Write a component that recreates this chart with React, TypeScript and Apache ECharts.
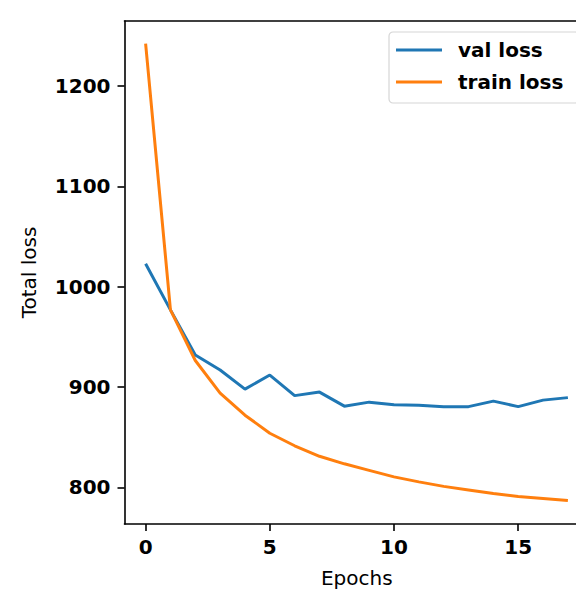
import React, { useEffect, useRef } from "react";
import * as echarts from "echarts";

const epochs = [0, 1, 2, 3, 4, 5, 6, 7, 8, 9, 10, 11, 12, 13, 14, 15, 16, 17];
const valLoss = [1023, 977, 932, 917, 898, 912, 891.5, 895, 881, 885, 882.5, 882, 880.5, 880.5, 886, 880.5, 887, 889.5];
const trainLoss = [1242.5, 977, 926.5, 894, 872, 854, 841.5, 831, 823.5, 817, 810.5, 805.5, 801, 797.5, 794, 791, 789, 787];
const xTicks = [0, 5, 10, 15];
const yTicks = [800, 900, 1000, 1100, 1200];

const FONT = "DejaVu Sans";

export default function App() {
  const ref = useRef<HTMLDivElement>(null);
  useEffect(() => {
    if (!ref.current) return;
    const chart = echarts.init(ref.current, undefined, { renderer: "svg" });
    const axisLineStyle = { color: "#000", width: 1.6 };
    chart.setOption({
      animation: false,
      backgroundColor: "#fff",
      grid: { left: 124.5, top: 21, width: 464.5, height: 503, containLabel: false, outerBoundsMode: "none" },
      legend: {
        orient: "vertical",
        left: 389,
        top: 32,
        padding: [8, 16, 11, 7],
        itemGap: 12,
        itemWidth: 46,
        itemHeight: 3,
        icon: "rect",
        borderColor: "#d6d6d6",
        borderWidth: 1.2,
        borderRadius: 4,
        backgroundColor: "rgba(255,255,255,0.8)",
        textStyle: { fontFamily: FONT, fontSize: 20, fontWeight: "bold", color: "#000", padding: [0, 0, 0, 11] },
        data: ["val loss", "train loss"],
      },
      xAxis: [
        {
          type: "value",
          min: -0.85,
          max: 17.85,
          name: "Epochs",
          nameLocation: "middle",
          nameGap: 44,
          nameTextStyle: { fontFamily: FONT, fontSize: 20, color: "#000" },
          axisLine: { show: true, onZero: false, lineStyle: axisLineStyle },
          axisTick: { show: true, length: 7, inside: false, lineStyle: axisLineStyle, customValues: xTicks },
          axisLabel: {
            show: true, margin: 13, fontFamily: FONT, fontSize: 20, fontWeight: "bold", color: "#000",
            customValues: xTicks, formatter: (v: number) => String(v),
          },
          splitLine: { show: false },
        },
        {
          type: "value",
          position: "top",
          min: -0.85,
          max: 17.85,
          axisLine: { show: true, onZero: false, lineStyle: axisLineStyle },
          axisTick: { show: false },
          axisLabel: { show: false },
          splitLine: { show: false },
        },
      ],
      yAxis: {
        type: "value",
        min: 763.5,
        max: 1265,
        name: "Total loss",
        nameLocation: "middle",
        nameGap: 86,
        nameTextStyle: { fontFamily: FONT, fontSize: 20, color: "#000" },
        axisLine: { show: true, onZero: false, lineStyle: axisLineStyle },
        axisTick: { show: true, length: 7, inside: false, lineStyle: axisLineStyle, customValues: yTicks },
        axisLabel: {
          show: true, margin: 14, fontFamily: FONT, fontSize: 20, fontWeight: "bold", color: "#000",
          customValues: yTicks, formatter: (v: number) => String(v),
        },
        splitLine: { show: false },
      },
      series: [
        {
          name: "val loss",
          type: "line",
          xAxisIndex: 0,
          data: epochs.map((e, i) => [e, valLoss[i]]),
          showSymbol: false,
          symbol: "none",
          lineStyle: { color: "#1f77b4", width: 3 },
          itemStyle: { color: "#1f77b4" },
        },
        {
          name: "train loss",
          type: "line",
          xAxisIndex: 0,
          data: epochs.map((e, i) => [e, trainLoss[i]]),
          showSymbol: false,
          symbol: "none",
          lineStyle: { color: "#ff7f0e", width: 3 },
          itemStyle: { color: "#ff7f0e" },
        },
      ],
    });
    return () => chart.dispose();
  }, []);
  return (
    <div style={{ position: "absolute", left: 0, top: 0, width: 576, height: 589, overflow: "hidden", background: "#fff" }}>
      <div ref={ref} style={{ width: 600, height: 589 }} />
    </div>
  );
}
